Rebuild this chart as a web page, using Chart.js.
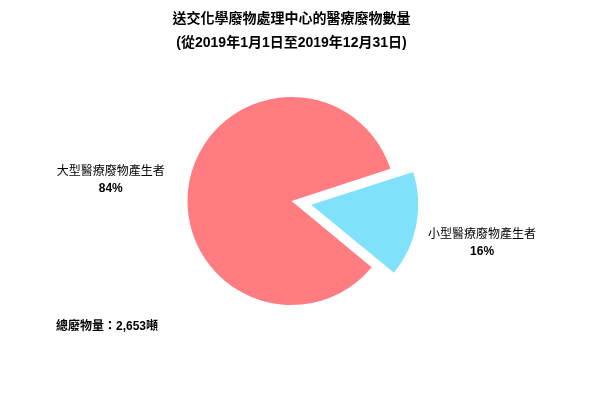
<!DOCTYPE html>
<html>
<head>
<meta charset="utf-8">
<script src="https://cdn.jsdelivr.net/npm/chart.js@4"></script>
<style>
  html, body { margin: 0; padding: 0; background: #fff; }
  #wrap { width: 599px; height: 409px; }
</style>
</head>
<body>
<div id="wrap"><canvas id="chart"></canvas></div>
<script>
// ----------------------------
// Data
// ----------------------------
const titleLines = ["送交化學廢物處理中心的醫療廢物數量", "(從2019年1月1日至2019年12月31日)"];
const categories = ["小型醫療廢物產生者", "大型醫療廢物產生者"];
const percents = [16, 84];
const sliceColors = ["#80e2fa", "#ff7c80"];
const totalNote = "總廢物量：2,653噸";

const FONT = "Arial, 'Liberation Sans', 'Noto Sans CJK TC', sans-serif";

// ----------------------------
// Outside labels + total note
// ----------------------------
const outsideLabels = {
  id: "outsideLabels",
  afterDatasetsDraw(chart, args, opts) {
    const ctx = chart.ctx;
    const meta = chart.getDatasetMeta(0);
    ctx.save();
    ctx.fillStyle = "#000";
    meta.data.forEach((arc, i) => {
      const p = arc.getProps(["x", "y", "startAngle", "endAngle", "outerRadius"], true);
      const mid = (p.startAngle + p.endAngle) / 2;
      // arc draws its offset at a quarter of the option value
      const off = (arc.options.offset || 0) / 4;
      const right = Math.cos(mid) >= 0;
      const dist = p.outerRadius + off + (right ? opts.distRight : opts.distLeft);
      const ax = p.x + Math.cos(mid) * dist;
      const ay = p.y + Math.sin(mid) * dist + (right ? opts.dyRight : opts.dyLeft);
      ctx.textAlign = "center";
      ctx.textBaseline = "middle";
      ctx.font = "12px " + FONT;
      const w = ctx.measureText(categories[i]).width;
      const cx = right ? ax + w / 2 : ax - w / 2;
      ctx.fillText(categories[i], cx, ay - 8);
      ctx.font = "bold 12px " + FONT;
      ctx.fillText(percents[i] + "%", cx, ay + 9);
    });
    ctx.font = "bold 12px " + FONT;
    ctx.textAlign = "left";
    ctx.textBaseline = "middle";
    ctx.fillText(totalNote, 56, 327);
    ctx.restore();
  }
};

new Chart(document.getElementById("chart"), {
  type: "pie",
  data: {
    labels: categories,
    datasets: [{
      data: percents,
      backgroundColor: sliceColors,
      borderWidth: 0,
      offset: [80, 0]
    }]
  },
  options: {
    responsive: true,
    maintainAspectRatio: false,
    animation: false,
    rotation: 72,
    radius: 104,
    layout: { padding: { top: 0, left: 0, right: 16, bottom: 72 } },
    plugins: {
      legend: { display: false },
      tooltip: { enabled: false },
      title: {
        display: true,
        text: titleLines,
        color: "#000",
        font: { family: FONT, size: 14, weight: "bold", lineHeight: 1.714 },
        padding: { top: 7, bottom: 10 }
      },
      outsideLabels: { distLeft: 25, distRight: 15, dyLeft: 3, dyRight: 16 }
    }
  },
  plugins: [outsideLabels]
});
</script>
</body>
</html>
